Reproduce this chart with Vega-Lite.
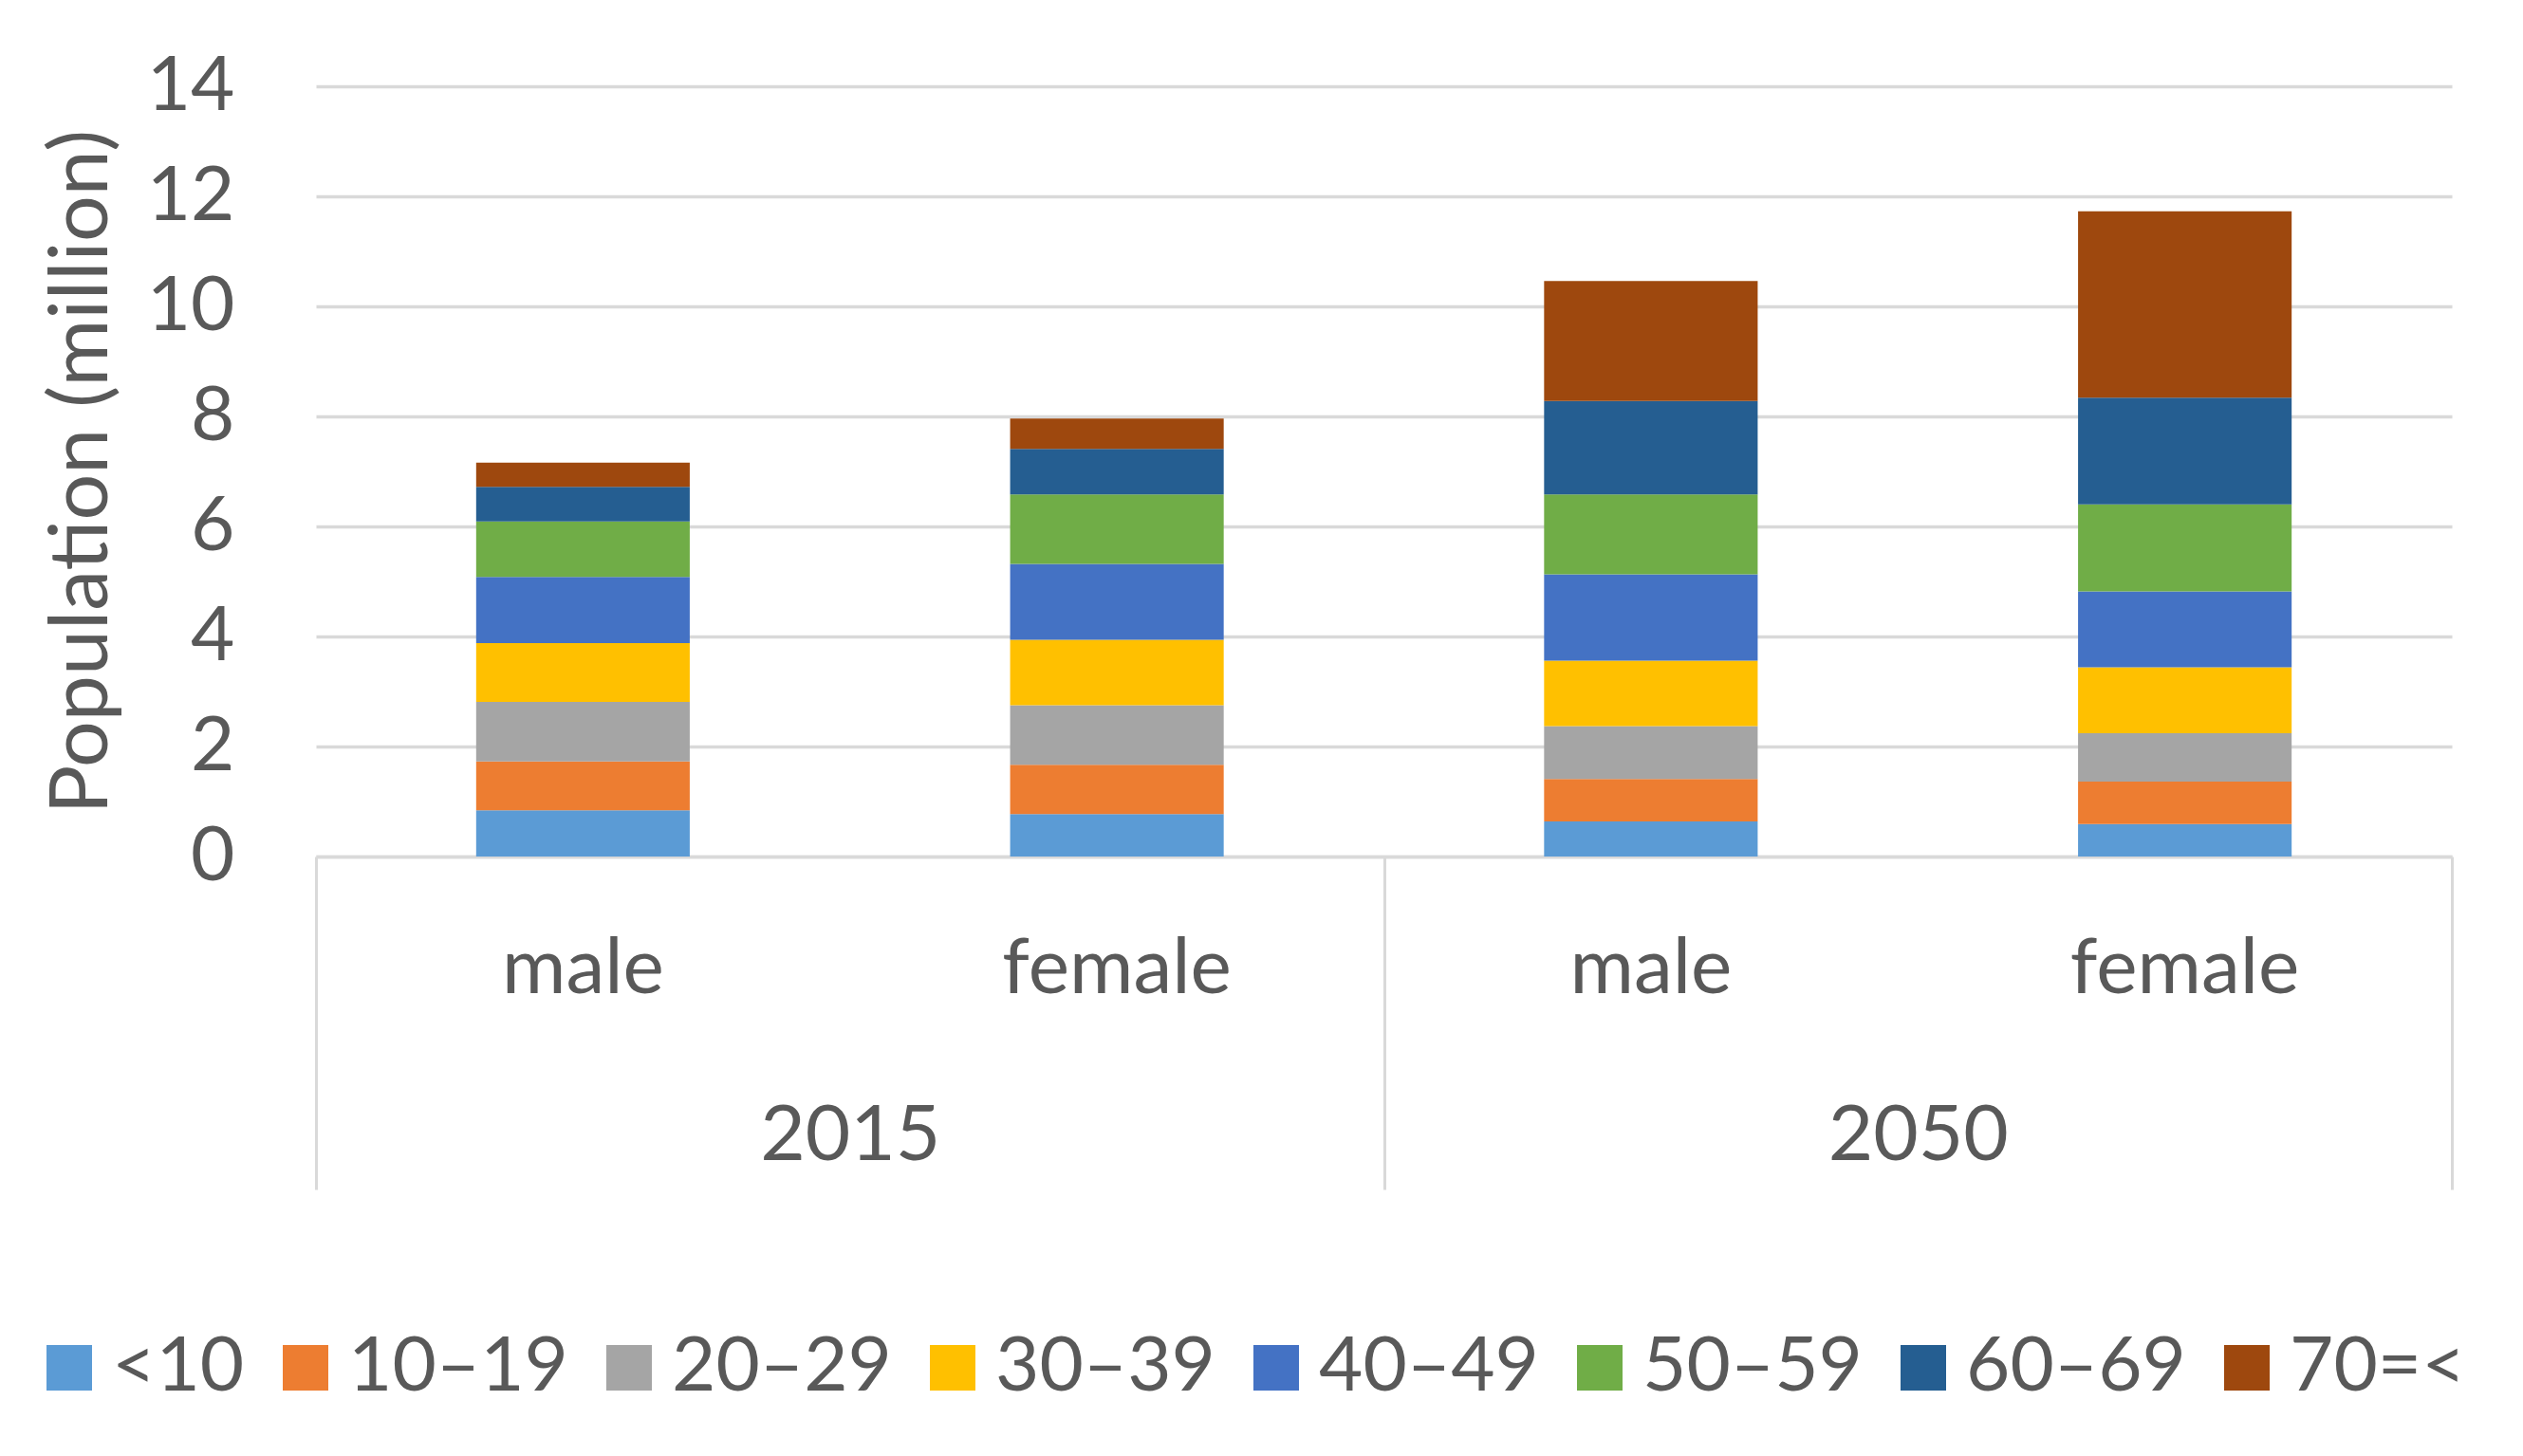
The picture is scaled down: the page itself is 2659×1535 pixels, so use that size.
{
  "$schema": "https://vega.github.io/schema/vega-lite/v6.json",
  "width": 2251,
  "height": 812,
  "autosize": {"type": "none"},
  "padding": {"left": 333, "top": 91, "right": 75, "bottom": 632},
  "background": "white",
  "config": {"view": {"stroke": null}, "font": "Lato"},
  "data": {
    "values": [
      {"year": "2015", "sex": "male", "grp": "2015 male", "age": "<10", "ord": 1, "value": 0.84},
      {"year": "2015", "sex": "male", "grp": "2015 male", "age": "10–19", "ord": 2, "value": 0.89},
      {"year": "2015", "sex": "male", "grp": "2015 male", "age": "20–29", "ord": 3, "value": 1.08},
      {"year": "2015", "sex": "male", "grp": "2015 male", "age": "30–39", "ord": 4, "value": 1.07},
      {"year": "2015", "sex": "male", "grp": "2015 male", "age": "40–49", "ord": 5, "value": 1.20},
      {"year": "2015", "sex": "male", "grp": "2015 male", "age": "50–59", "ord": 6, "value": 1.01},
      {"year": "2015", "sex": "male", "grp": "2015 male", "age": "60–69", "ord": 7, "value": 0.63},
      {"year": "2015", "sex": "male", "grp": "2015 male", "age": "70=<", "ord": 8, "value": 0.44},
      {"year": "2015", "sex": "female", "grp": "2015 female", "age": "<10", "ord": 1, "value": 0.77},
      {"year": "2015", "sex": "female", "grp": "2015 female", "age": "10–19", "ord": 2, "value": 0.90},
      {"year": "2015", "sex": "female", "grp": "2015 female", "age": "20–29", "ord": 3, "value": 1.08},
      {"year": "2015", "sex": "female", "grp": "2015 female", "age": "30–39", "ord": 4, "value": 1.19},
      {"year": "2015", "sex": "female", "grp": "2015 female", "age": "40–49", "ord": 5, "value": 1.38},
      {"year": "2015", "sex": "female", "grp": "2015 female", "age": "50–59", "ord": 6, "value": 1.26},
      {"year": "2015", "sex": "female", "grp": "2015 female", "age": "60–69", "ord": 7, "value": 0.83},
      {"year": "2015", "sex": "female", "grp": "2015 female", "age": "70=<", "ord": 8, "value": 0.55},
      {"year": "2050", "sex": "male", "grp": "2050 male", "age": "<10", "ord": 1, "value": 0.64},
      {"year": "2050", "sex": "male", "grp": "2050 male", "age": "10–19", "ord": 2, "value": 0.77},
      {"year": "2050", "sex": "male", "grp": "2050 male", "age": "20–29", "ord": 3, "value": 0.96},
      {"year": "2050", "sex": "male", "grp": "2050 male", "age": "30–39", "ord": 4, "value": 1.19},
      {"year": "2050", "sex": "male", "grp": "2050 male", "age": "40–49", "ord": 5, "value": 1.57},
      {"year": "2050", "sex": "male", "grp": "2050 male", "age": "50–59", "ord": 6, "value": 1.45},
      {"year": "2050", "sex": "male", "grp": "2050 male", "age": "60–69", "ord": 7, "value": 1.70},
      {"year": "2050", "sex": "male", "grp": "2050 male", "age": "70=<", "ord": 8, "value": 2.18},
      {"year": "2050", "sex": "female", "grp": "2050 female", "age": "<10", "ord": 1, "value": 0.59},
      {"year": "2050", "sex": "female", "grp": "2050 female", "age": "10–19", "ord": 2, "value": 0.77},
      {"year": "2050", "sex": "female", "grp": "2050 female", "age": "20–29", "ord": 3, "value": 0.88},
      {"year": "2050", "sex": "female", "grp": "2050 female", "age": "30–39", "ord": 4, "value": 1.20},
      {"year": "2050", "sex": "female", "grp": "2050 female", "age": "40–49", "ord": 5, "value": 1.38},
      {"year": "2050", "sex": "female", "grp": "2050 female", "age": "50–59", "ord": 6, "value": 1.58},
      {"year": "2050", "sex": "female", "grp": "2050 female", "age": "60–69", "ord": 7, "value": 1.94},
      {"year": "2050", "sex": "female", "grp": "2050 female", "age": "70=<", "ord": 8, "value": 3.39}
    ]
  },
  "layer": [
    {
      "mark": {"type": "bar"},
      "encoding": {
        "x": {
          "field": "grp", "type": "nominal", "sort": null,
          "scale": {"type": "band", "paddingInner": 0.6, "paddingOuter": 0.3},
          "axis": {
            "orient": "bottom", "title": null,
            "labelExpr": "split(datum.label, ' ')[1]",
            "labelFontSize": 82, "labelColor": "#595959", "labelFont": "Lato",
            "labelPadding": 78, "labelAngle": 0, "labelLimit": 0,
            "ticks": false, "domain": true, "domainColor": "#d9d9d9", "domainWidth": 3.5,
            "grid": false
          }
        },
        "y": {
          "field": "value", "type": "quantitative", "stack": "zero",
          "scale": {"domain": [0, 14], "nice": false},
          "axis": {
            "values": [0, 2, 4, 6, 8, 10, 12, 14],
            "title": "Population (million)",
            "titleFontSize": 86, "titleFontWeight": "normal", "titleColor": "#595959", "titleFont": "Lato",
            "titlePadding": 24,
            "labelFontSize": 80, "labelColor": "#595959", "labelFont": "Lato", "labelPadding": 86,
            "ticks": false, "domain": false,
            "grid": true, "gridColor": "#d9d9d9", "gridWidth": 3.5
          }
        },
        "color": {
          "field": "age", "type": "nominal",
          "sort": ["<10", "10–19", "20–29", "30–39", "40–49", "50–59", "60–69", "70=<"],
          "scale": {
            "domain": ["<10", "10–19", "20–29", "30–39", "40–49", "50–59", "60–69", "70=<"],
            "range": ["#5B9BD5", "#ED7D31", "#A5A5A5", "#FFC000", "#4472C4", "#70AD47", "#255E91", "#9E480E"]
          },
          "legend": {
            "orient": "none", "legendX": -300, "legendY": 1311, "padding": 0,
            "direction": "horizontal", "columns": 8, "title": null,
            "symbolType": "square", "symbolSize": 2304, "symbolStrokeWidth": 0,
            "labelFontSize": 80, "labelColor": "#595959", "labelFont": "Lato",
            "labelOffset": 5, "columnPadding": 24, "labelLimit": 0
          }
        },
        "order": {"field": "ord", "type": "quantitative", "sort": "ascending"}
      }
    },
    {
      "mark": {"type": "rule", "opacity": 0},
      "encoding": {
        "x": {
          "field": "year", "type": "nominal",
          "scale": {"type": "band", "paddingInner": 0, "paddingOuter": 0},
          "axis": {
            "orient": "bottom", "title": null,
            "tickBand": "extent", "ticks": true, "tickSize": 351, "tickColor": "#d9d9d9", "tickWidth": 3,
            "domain": false, "grid": false,
            "labelFontSize": 82, "labelColor": "#595959", "labelFont": "Lato",
            "labelPadding": -97, "labelAngle": 0, "labelLimit": 0
          }
        }
      }
    }
  ],
  "resolve": {"scale": {"x": "independent"}, "axis": {"x": "independent"}}
}
